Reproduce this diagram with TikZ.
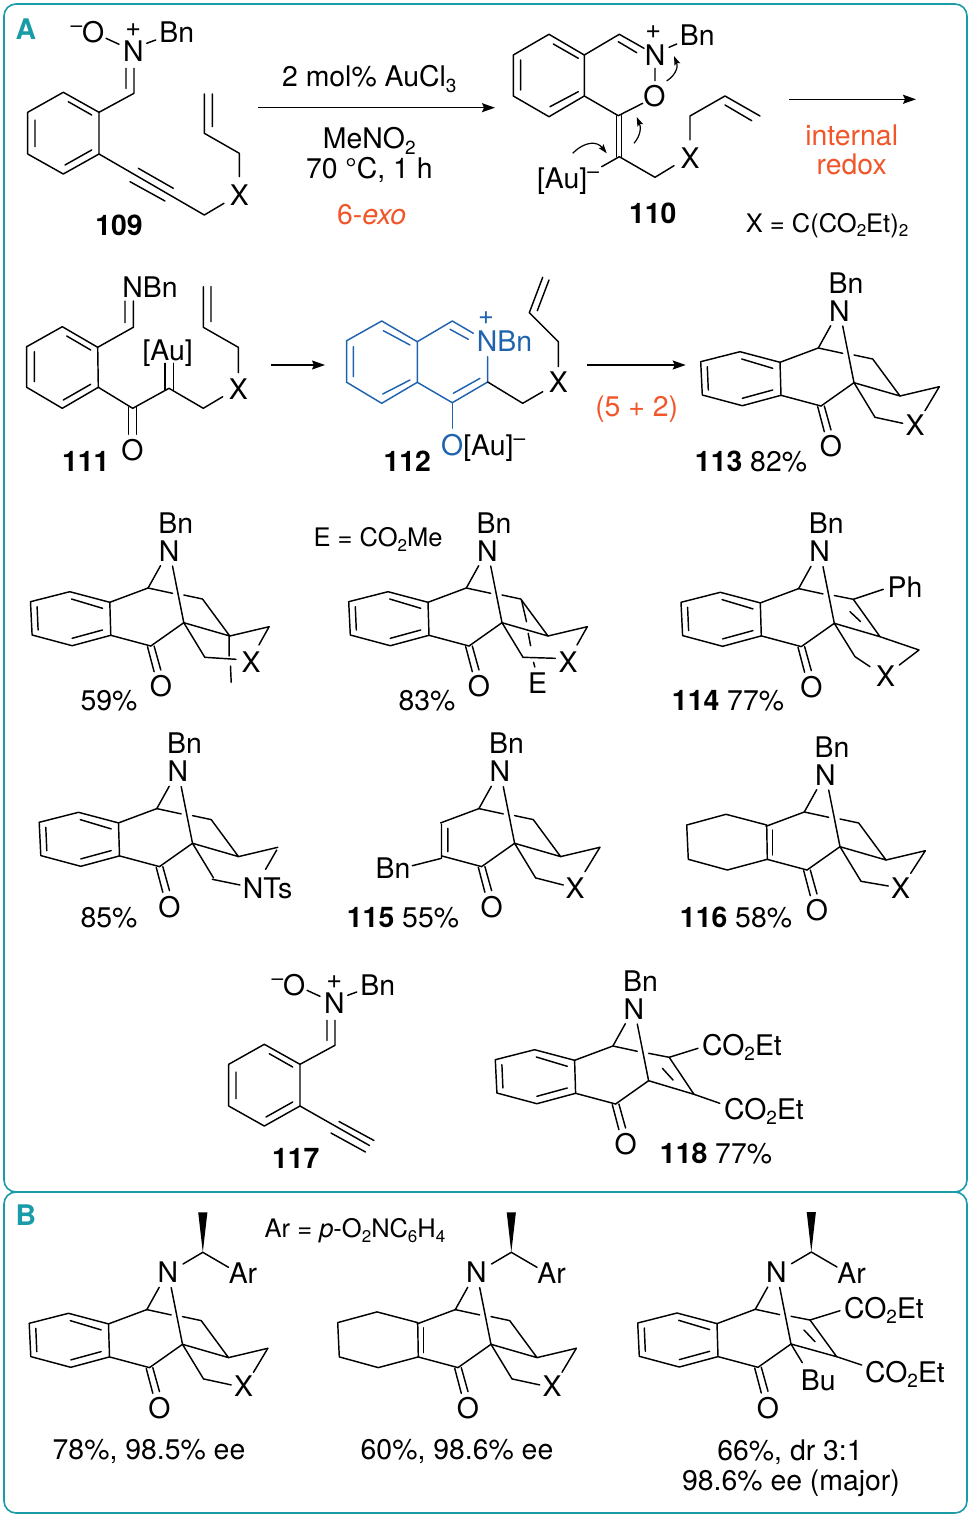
\documentclass[tikz,border=0pt]{standalone}
\usepackage{fontspec}
\setmainfont{TeX Gyre Heros}
\usetikzlibrary{arrows.meta}
\definecolor{teal}{HTML}{1A9BA8}
\definecolor{orng}{HTML}{F0562A}
\definecolor{blu}{HTML}{1F62AE}
\newcommand\sbb[1]{{\fontsize{19}{19}\selectfont\raisebox{-5.5pt}{#1}}}
\newcommand\sbs[1]{{\fontsize{17}{17}\selectfont\raisebox{-5pt}{#1}}}
\newcommand\spm{{\fontsize{21}{21}\selectfont\raisebox{10pt}{–}}}
\tikzset{
  lab/.style={inner sep=0pt,anchor=base,yshift=-10pt,font=\fontsize{28.4}{30}\selectfont},
  note/.style={lab,font=\fontsize{25.5}{28}\selectfont},
  cpd/.style={lab,font=\fontsize{28.4}{30}\selectfont\bfseries},
  plus/.style={lab,font=\fontsize{27}{28}\selectfont},
  bnd/.style={line width=1.45pt,line cap=round,line join=round},
  rarrow/.style={line width=1.45pt,-{Stealth[length=13pt,width=9pt,inset=2pt]}},
  curly/.style={line width=1.2pt,-{Stealth[length=9pt,width=6pt,inset=1.5pt]}},
  frame/.style={draw=teal,line width=1.6pt,rounded corners=12pt}
}
% --- all below in the local frame of compound 113
\newcommand\BenzL{%
  \draw[bnd] (780,362.3)--(740,351.7)--(700.7,361.7)--(702.3,395)--(742.3,405.7)--(781,395.3)--cycle;
  \draw[bnd] (741.7,359)--(772.7,368.3) (707.3,366.7)--(708.3,390) (742.3,398.3)--(772.7,390);}
\newcommand\CycloL{%
  \draw[bnd] (780.7,361)--(740,350.3)--(700.7,361)--(702.3,395.3)--(741.3,406)--(781.3,395.3)--cycle;
  \draw[bnd] (786.7,366)--(786.7,391);}
\newcommand\LinkL{\draw[bnd] (780,362.3)--(818.3,348) (781,395.3)--(821,406);}
\newcommand\CoreR{%
  \node[lab] (nn) at (839.3,311) {N};
  \node[lab] (oo) at (831,446.7) {O};
  \draw[bnd] (818.3,348)--(830.7,325.7) (842.7,326)--(854,382.7)--(821,406);
  \draw[bnd] (817.7,406.7)--(824.3,431.7) (824.3,406)--(831,430);
  \draw[bnd] (818.3,348)--(842.7,353.3);}
\newcommand\SatR{%
  \draw[bnd] (854,355)--(872.7,359)--(900,396)--(854,382.7);
  \draw[bnd] (900,396)--(939.3,386.7);
  \draw[bnd] (854,382.7)--(875,417.3);}
\newcommand\XRing[6]{%
  \node[lab] at (#1,#2) {X};
  \draw[bnd] (939.3,386.7)--(#3,#4) (875,417.3)--(#5,#6);}
\newcommand\StdX{\XRing{915}{425}{925}{410.7}{902.7}{423.3}}
\newcommand\TopBn{\node[lab] at (846,283) {Bn};}
\newcommand\ChiralN{%
  \draw[bnd] (854.5,302.4)--(874.3,290.7)--(900,305.7);
  \fill (874.3,290.7)--(869.7,250.7)--(878.9,250.7)--cycle;
  \node[lab] at (914.5,311.7) {Ar};}
% --- nitrone aryl, local frame of 109
\newcommand\NitroneAr{%
  \draw[bnd] (99,112.3)--(63.3,92.3)--(27.7,112.3)--(27.7,154)--(63.3,174)--(99,154)--cycle;
  \draw[bnd] (68.3,101.7)--(91.7,115) (35,120)--(35,146.7) (65,165)--(91.7,150);
  \draw[bnd] (99,112.3)--(134,93.3)--(134,68.3) (126,88.3)--(126,68.3);
  \node[lab] at (133.3,51.7) {N};
  \node[plus] at (133.3,26.5) {+};
  \node[lab] at (176.7,33) {Bn};
  \node[lab,anchor=base east] at (104.5,33) {\spm O};
  \draw[bnd] (106,38.3)--(119,44.3) (146.7,43.3)--(155.7,40);}
\begin{document}
\begin{tikzpicture}[x=1pt,y=-1pt]
\useasboundingbox (0,0) rectangle (971,1517);
\draw[frame] (4,1192) rectangle (967,4);
\draw[frame] (4,1513) rectangle (967,1192);
\node[cpd,text=teal] (A) at (26,30) {A};
\node[cpd,text=teal] (B) at (26,1215) {B};

% 109
\NitroneAr
\draw[bnd] (99,154)--(204.3,215)--(224,203.3);
\draw[bnd] (138.3,168.3)--(173.3,188.3) (130,181.7)--(165,201);
\node[lab] at (239.3,195) {X};
\draw[bnd] (239.3,176.7)--(239.3,153.3)--(204.3,133.3)--(204.3,94) (212.3,126.7)--(212.3,94);
\node[cpd] at (119,225) {109};
\coordinate (a1s) at (258,107.7); \coordinate (a1e) at (495,107.7);
\draw[rarrow] (a1s)--(a1e);
\node[lab] at (369.3,76.7) {2 mol\% AuCl\sbb{3}};
\node[lab] at (369.3,139) {MeNO\sbb{2}};
\node[lab] at (369.3,168.3) {70 °C, 1 h};
\node[lab,text=orng] at (371.7,215) {6-\textit{exo}};

% 110
\draw[bnd] (584.3,55)--(549,34.3)--(513.3,55)--(513.3,96)--(549,116.7)--(584.3,96)--cycle;
\draw[bnd] (553.3,44)--(578.3,58.3) (520.7,60)--(520.7,90) (550,106.7)--(578.3,91.7);
\draw[bnd] (584.3,55)--(619.3,34.3)--(644,48.3) (618.3,41.7)--(636.7,52.7);
\node[lab] at (655,55.7) {N};
\node[plus] at (653.3,28.7) {+};
\node[lab] at (697.3,36) {Bn};
\draw[bnd] (669,47.3)--(676.7,44) (655,68.3)--(655,80.7);
\node[lab] at (654.3,96.7) {O};
\draw[bnd] (584.3,96)--(618.3,115.7)--(642.7,103.3);
\draw[bnd] (616.7,115.7)--(616.7,156.7) (621.7,115.7)--(621.7,156.7);
\draw[bnd] (601.7,166.7)--(619.3,156.7)--(655,177.3)--(674,165.7);
\node[lab] at (690,158.3) {X};
\draw[bnd] (690,140)--(690,116)--(725,96)--(760,116) (725,105)--(751.7,120.7);
\node[lab] at (568,179) {[Au]\spm};
\node[cpd] at (652.7,213.3) {110};
\node[note] at (827,222) {X = C(CO\sbs{2}Et)\sbs{2}};
\node[lab,text=orng] at (851.7,136) {internal};
\node[lab,text=orng] at (851.7,165) {redox};
\coordinate (a2s) at (789.3,99.3); \coordinate (a2e) at (916,99.3);
\draw[rarrow] (a2s)--(a2e);
\draw[curly] (572.7,153.3) .. controls (585,141) and (597,141) .. (606.7,153.3);
\draw[curly] (634,143.3) .. controls (641,135) and (641,127) .. (636.7,117);
\draw[curly] (666.7,81) .. controls (677,74) and (678,66) .. (674,56);

% 111
\draw[bnd] (97.7,347.3)--(62.3,326.7)--(26.7,346.7)--(26.7,387.3)--(62.3,408.3)--(98.3,387.3)--cycle;
\draw[bnd] (66.7,336)--(90.7,350) (34.3,351.7)--(34.3,381.7) (63.3,400)--(90.7,384.3);
\draw[bnd] (97.7,347.3)--(133.3,327.3)--(133.3,301) (125,322.7)--(125,301);
\node[lab] at (150,287) {NBn};
\draw[bnd] (98.3,387.3)--(132.7,408.3)--(169,388.3)--(203.3,408.3)--(222.7,396.7);
\draw[bnd] (128.3,407)--(128.3,434.3) (136.7,407)--(136.7,434.3);
\node[lab] at (132.3,450) {O};
\node[cpd] at (85.7,461) {111};
\node[lab] at (167.7,350) {[Au]};
\draw[bnd] (165,390)--(165,363.3) (173.3,390)--(173.3,363.3);
\node[lab] at (238.3,389.3) {X};
\draw[bnd] (238.3,372.7)--(238.3,347.3)--(203.3,327.3)--(203.3,286.7) (211,321.7)--(211,286.7);
\coordinate (a3s) at (270.7,365); \coordinate (a3e) at (325,365);
\draw[rarrow] (a3s)--(a3e);

% 112
\begin{scope}[blu]
\draw[bnd] (417.3,341.7)--(381.7,321)--(346.7,340.7)--(346.7,382.3)--(381.7,403.3)--(417.3,382.3)--cycle;
\draw[bnd] (383.3,330.7)--(410,345) (353.3,346.7)--(353.3,376.7) (382.7,394)--(410,380);
\draw[bnd] (417.3,341.7)--(452.3,321)--(473.3,333.3) (450,329.3)--(468.3,339.3);
\node[lab,text=blu] at (504.5,341) {NBn};
\node[plus,text=blu] at (486,314) {+};
\draw[bnd] (487.7,356.7)--(487.7,382)--(452.3,402.7)--(417.3,382.3) (453.3,393.3)--(480,378.3);
\draw[bnd] (452.3,402.7)--(452.3,428.3);
\end{scope}
\node[lab,anchor=base west] at (441,445) {\textcolor{blu}{O}[Au]\spm};
\node[cpd] at (407.3,461) {112};
\draw[bnd] (487.7,382)--(522.7,403.3)--(542.7,391.7);
\node[lab] at (558.3,382.7) {X};
\draw[bnd] (558.3,366.7)--(558.3,341.7)--(529.3,312.7)--(542.7,277.3) (537.3,310.7)--(549,280);
\coordinate (a4s) at (587.3,365); \coordinate (a4e) at (685.7,365);
\draw[rarrow] (a4s)--(a4e);
\node[lab,text=orng] at (636.7,406) {(5 + 2)};

% 113
\begin{scope}
\BenzL\LinkL\CoreR\SatR\StdX\TopBn
\end{scope}
\node[lab] at (751,461) {\textbf{113} 82\%};

% 59%
\begin{scope}[shift={(-670.2,240)}]
\BenzL\LinkL\CoreR\SatR\TopBn
\XRing{921.2}{422.3}{929.1}{405}{906.2}{419.3}
\end{scope}
\draw[bnd] (229.2,636)--(229.2,656) (230.5,666)--(231.2,682.3);
\node[lab] at (109,700) {59\%};

% 83%
\begin{scope}[shift={(-352,240)}]
\BenzL\LinkL\CoreR\SatR\TopBn
\XRing{920}{422.3}{929}{405}{907.3}{418.3}
\end{scope}
\draw[bnd] (521.5,600)--(526.5,621.7) (528.2,633.3)--(530.6,645.7) (533.6,662.3)--(534.8,667);
\node[lab] at (537.5,683) {E};
\node[note] at (378,536) {E = CO\sbs{2}Me};
\node[lab] at (427,700) {83\%};

% 114
\begin{scope}[shift={(-19.7,240.6)}]
\BenzL\LinkL\CoreR\TopBn
\end{scope}
\draw[bnd] (834.3,623.3)--(880,636.7)--(853.3,599.3)--(834.3,595.5);
\draw[bnd] (850,611.7)--(860.7,621.7);
\draw[bnd] (853.3,599.3)--(883.3,589.3);
\node[lab] at (905,587.7) {Ph};
\draw[bnd] (880,636.7)--(919,650)--(899.3,665);
\node[lab] at (885.7,676.7) {X};
\draw[bnd] (834.3,623.3)--(855,656.7)--(870,666.7);
\node[lab] at (728,700) {\textbf{114} 77\%};

% 85%
\begin{scope}[shift={(-661.5,460.6)}]
\BenzL\LinkL\CoreR\SatR\TopBn
\end{scope}
\draw[bnd] (276.7,850)--(265.6,869.3) (212.3,879.3)--(240,885);
\node[lab] at (267.5,888) {NTs};
\node[lab] at (109,917) {85\%};

% 115
\begin{scope}[shift={(-339.4,460.6)}]
\LinkL\CoreR\SatR\TopBn
\XRing{914.4}{427.7}{924.4}{411.1}{902.7}{424.4}
\end{scope}
\draw[bnd] (441.5,824)--(441.5,858.3) (447.8,828.3)--(447.8,851.7) (412.3,865.7)--(441.5,858.3);
\node[lab] at (393,868.3) {Bn};
\node[lab] at (403,917) {\textbf{115} 55\%};

% 116
\begin{scope}[shift={(-14,464)}]
\CycloL\LinkL\CoreR\SatR\TopBn
\XRing{914.7}{424.3}{924.7}{409.3}{902.3}{422}
\end{scope}
\node[lab] at (736,917) {\textbf{116} 58\%};

% 117
\begin{scope}[shift={(201,952)}]
\NitroneAr
\end{scope}
\draw[bnd] (300,1106)--(369.5,1145.5);
\draw[bnd] (339,1121.5)--(374,1140.5) (331,1133)--(365.5,1152);
\node[cpd] at (295.7,1158) {117};

% 118
\begin{scope}[shift={(-205.4,698)}]
\BenzL\LinkL\CoreR\TopBn
\end{scope}
\draw[bnd] (648.6,1053.3)--(669.2,1057.3)--(694,1094.3)--(648.6,1080.7);
\draw[bnd] (662.4,1068.3)--(673,1080);
\draw[bnd] (669.2,1057.3)--(698,1048.3) (694,1094.3)--(719.8,1103.3);
\node[lab] at (742,1045) {CO\sbb{2}Et};
\node[lab] at (764,1109) {CO\sbb{2}Et};
\node[lab] at (716,1153) {\textbf{118} 77\%};

% B1
\begin{scope}[shift={(-671.5,961.6)}]
\BenzL\LinkL\CoreR\SatR\StdX\ChiralN
\end{scope}
\node[note] at (355,1227) {Ar = \textit{p}-O\sbs{2}NC\sbs{6}H\sbs{4}};
\node[lab] at (149,1449) {78\%, 98.5\% ee};

% B2
\begin{scope}[shift={(-363,961.6)}]
\CycloL\LinkL\CoreR\SatR\StdX\ChiralN
\end{scope}
\node[lab] at (457,1449) {60\%, 98.6\% ee};

% B3
\begin{scope}[shift={(-63,961.3)}]
\BenzL\LinkL\CoreR\ChiralN
\end{scope}
\draw[bnd] (791,1316.3)--(810,1320)--(836.7,1356.7)--(791,1344);
\draw[bnd] (804,1330)--(815,1341.7);
\draw[bnd] (810,1320)--(840,1310.7) (836.7,1356.7)--(861.7,1365) (791,1344)--(802.3,1362.7);
\node[lab] at (884,1308) {CO\sbb{2}Et};
\node[lab] at (905,1372) {CO\sbb{2}Et};
\node[lab] at (818.3,1380) {Bu};
\node[lab] at (790,1450) {66\%, dr 3:1};
\node[lab] at (791,1480) {98.6\% ee (major)};
\end{tikzpicture}
\end{document}
